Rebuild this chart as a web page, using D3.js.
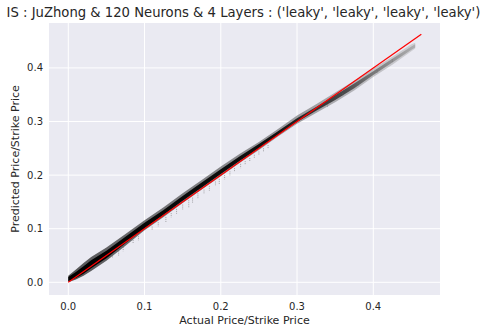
<!DOCTYPE html>
<html>
<head>
<meta charset="utf-8">
<script src="https://cdn.jsdelivr.net/npm/d3@7"></script>
<style>
  body { margin: 0; background: #fff; }
  text { font-family: "DejaVu Sans", sans-serif; fill: #262626; }
</style>
</head>
<body>
<div id="canvas"></div>
<script>
// chart data
var titleText = "IS : JuZhong & 120 Neurons & 4 Layers : ('leaky', 'leaky', 'leaky', 'leaky')";
var xTicks = [0.0, 0.1, 0.2, 0.3, 0.4];
var yTicks = [0.0, 0.1, 0.2, 0.3, 0.4];
// predicted cloud: actual value, outer band low/high, dense core low/high
var bandX    = [0.000, 0.010, 0.020, 0.030, 0.050, 0.075, 0.100, 0.125, 0.150, 0.175, 0.200, 0.225, 0.250, 0.275, 0.300, 0.325, 0.350, 0.375, 0.400, 0.425, 0.450, 0.455];
var bandLo   = [0.000, 0.005, 0.012, 0.021, 0.040, 0.068, 0.097, 0.122, 0.148, 0.173, 0.198, 0.223, 0.247, 0.272, 0.296, 0.316, 0.336, 0.358, 0.383, 0.406, 0.431, 0.436];
var bandHi   = [0.012, 0.024, 0.036, 0.047, 0.065, 0.090, 0.116, 0.140, 0.166, 0.191, 0.216, 0.240, 0.262, 0.286, 0.311, 0.332, 0.354, 0.376, 0.399, 0.421, 0.444, 0.447];
var coreLo   = [0.002, 0.008, 0.016, 0.026, 0.045, 0.073, 0.101, 0.126, 0.152, 0.177, 0.202, 0.227, 0.250, 0.275, 0.299, 0.320, 0.340, 0.362, 0.387, 0.410, 0.434, 0.438];
var coreHi   = [0.010, 0.019, 0.030, 0.041, 0.059, 0.085, 0.111, 0.135, 0.161, 0.186, 0.211, 0.235, 0.258, 0.282, 0.306, 0.327, 0.349, 0.371, 0.394, 0.417, 0.440, 0.444];
// short stray streaks below the cloud: actual value, streak top, streak bottom
var outX   = [0.058, 0.066, 0.072, 0.085, 0.092, 0.110, 0.118, 0.128, 0.135, 0.142, 0.150, 0.158, 0.163, 0.170, 0.178, 0.185, 0.193, 0.198, 0.205, 0.212, 0.218, 0.226, 0.232, 0.238, 0.244, 0.250, 0.256, 0.262, 0.340, 0.360, 0.380, 0.405, 0.425];
var outTop = [0.052, 0.059, 0.066, 0.079, 0.086, 0.104, 0.112, 0.122, 0.129, 0.137, 0.145, 0.153, 0.158, 0.166, 0.173, 0.180, 0.188, 0.193, 0.200, 0.207, 0.213, 0.221, 0.226, 0.232, 0.238, 0.244, 0.250, 0.256, 0.332, 0.353, 0.372, 0.396, 0.416];
var outBot = [0.045, 0.050, 0.058, 0.072, 0.078, 0.097, 0.104, 0.112, 0.121, 0.128, 0.136, 0.140, 0.148, 0.157, 0.165, 0.171, 0.180, 0.183, 0.192, 0.199, 0.206, 0.213, 0.219, 0.225, 0.231, 0.238, 0.244, 0.250, 0.327, 0.348, 0.367, 0.391, 0.411];
// red reference line y = x
var refX = [0.0, 0.463];
var refY = [0.0, 0.463];

var W = 489, H = 333;
var margin = { left: 49, right: 49, top: 23, bottom: 38 };

var svg = d3.select("#canvas").append("svg")
    .attr("width", W).attr("height", H);

var x = d3.scaleLinear().domain([-0.0253, 0.4875]).range([margin.left, W - margin.right]);
var y = d3.scaleLinear().domain([-0.0237, 0.4838]).range([H - margin.bottom, margin.top]);

svg.append("rect")
    .attr("x", margin.left).attr("y", margin.top)
    .attr("width", W - margin.left - margin.right)
    .attr("height", H - margin.top - margin.bottom)
    .attr("fill", "#eaeaf2");

svg.append("clipPath").attr("id", "plotclip").append("rect")
    .attr("x", margin.left).attr("y", margin.top)
    .attr("width", W - margin.left - margin.right)
    .attr("height", H - margin.top - margin.bottom);

// grid
svg.append("g").selectAll("line").data(xTicks).join("line")
    .attr("x1", function (d) { return x(d); }).attr("x2", function (d) { return x(d); })
    .attr("y1", margin.top).attr("y2", H - margin.bottom)
    .attr("stroke", "#fff").attr("stroke-width", 1);
svg.append("g").selectAll("line").data(yTicks).join("line")
    .attr("y1", function (d) { return y(d); }).attr("y2", function (d) { return y(d); })
    .attr("x1", margin.left).attr("x2", W - margin.right)
    .attr("stroke", "#fff").attr("stroke-width", 1);

// tick labels
svg.append("g").selectAll("text").data(xTicks).join("text")
    .attr("x", function (d) { return x(d); })
    .attr("y", H - margin.bottom + 15)
    .attr("text-anchor", "middle")
    .style("font-size", "10px")
    .text(function (d) { return d.toFixed(1); });
svg.append("g").selectAll("text").data(yTicks).join("text")
    .attr("x", margin.left - 6)
    .attr("y", function (d) { return y(d) + 3.5; })
    .attr("text-anchor", "end")
    .style("font-size", "10px")
    .text(function (d) { return d.toFixed(1); });

// gradient: cloud gets lighter towards the top end
var defs = svg.append("defs");
var grad = defs.append("linearGradient").attr("id", "fade")
    .attr("gradientUnits", "userSpaceOnUse")
    .attr("x1", x(0)).attr("x2", x(0.455)).attr("y1", 0).attr("y2", 0);
grad.append("stop").attr("offset", "0%").attr("stop-color", "#000").attr("stop-opacity", 1);
grad.append("stop").attr("offset", "60%").attr("stop-color", "#0a0a0a").attr("stop-opacity", 0.95);
grad.append("stop").attr("offset", "80%").attr("stop-color", "#333").attr("stop-opacity", 0.8);
grad.append("stop").attr("offset", "100%").attr("stop-color", "#999").attr("stop-opacity", 0.6);

var grad2 = defs.append("linearGradient").attr("id", "fade2")
    .attr("gradientUnits", "userSpaceOnUse")
    .attr("x1", x(0)).attr("x2", x(0.455)).attr("y1", 0).attr("y2", 0);
grad2.append("stop").attr("offset", "0%").attr("stop-color", "#222").attr("stop-opacity", 0.75);
grad2.append("stop").attr("offset", "70%").attr("stop-color", "#555").attr("stop-opacity", 0.5);
grad2.append("stop").attr("offset", "100%").attr("stop-color", "#999").attr("stop-opacity", 0.35);

var band = bandX.map(function (v, i) {
    return { x: v, lo: bandLo[i], hi: bandHi[i], clo: coreLo[i], chi: coreHi[i] };
});

var cloud = svg.append("g").attr("clip-path", "url(#plotclip)");

cloud.append("path").datum(band)
    .attr("d", d3.area()
        .x(function (d) { return x(d.x); })
        .y0(function (d) { return y(d.lo); })
        .y1(function (d) { return y(d.hi); }))
    .attr("fill", "url(#fade2)");

cloud.append("path").datum(band)
    .attr("d", d3.area()
        .x(function (d) { return x(d.x); })
        .y0(function (d) { return y(d.clo); })
        .y1(function (d) { return y(d.chi); }))
    .attr("fill", "url(#fade)");

cloud.append("g").selectAll("line").data(outX).join("line")
    .attr("x1", function (d) { return x(d); }).attr("x2", function (d) { return x(d); })
    .attr("y1", function (d, i) { return y(outTop[i]); })
    .attr("y2", function (d, i) { return y(outBot[i]); })
    .attr("stroke", "#666").attr("stroke-width", 0.8)
    .attr("stroke-dasharray", "1,1").attr("stroke-opacity", 0.7);

// red reference line
cloud.append("path")
    .datum(refX.map(function (v, i) { return [v, refY[i]]; }))
    .attr("d", d3.line().x(function (d) { return x(d[0]); }).y(function (d) { return y(d[1]); }))
    .attr("stroke", "#ff0000").attr("stroke-width", 1.2).attr("fill", "none");

// labels
svg.append("text")
    .attr("x", W / 2 - 1).attr("y", 17)
    .attr("text-anchor", "middle")
    .style("font-size", "13.2px")
    .text(titleText);
svg.append("text")
    .attr("x", (margin.left + W - margin.right) / 2).attr("y", H - 9)
    .attr("text-anchor", "middle")
    .style("font-size", "11px")
    .text("Actual Price/Strike Price");
svg.append("text")
    .attr("transform", "translate(19," + ((margin.top + H - margin.bottom) / 2) + ") rotate(-90)")
    .attr("text-anchor", "middle")
    .style("font-size", "11px")
    .text("Predicted Price/Strike Price");
</script>
</body>
</html>
